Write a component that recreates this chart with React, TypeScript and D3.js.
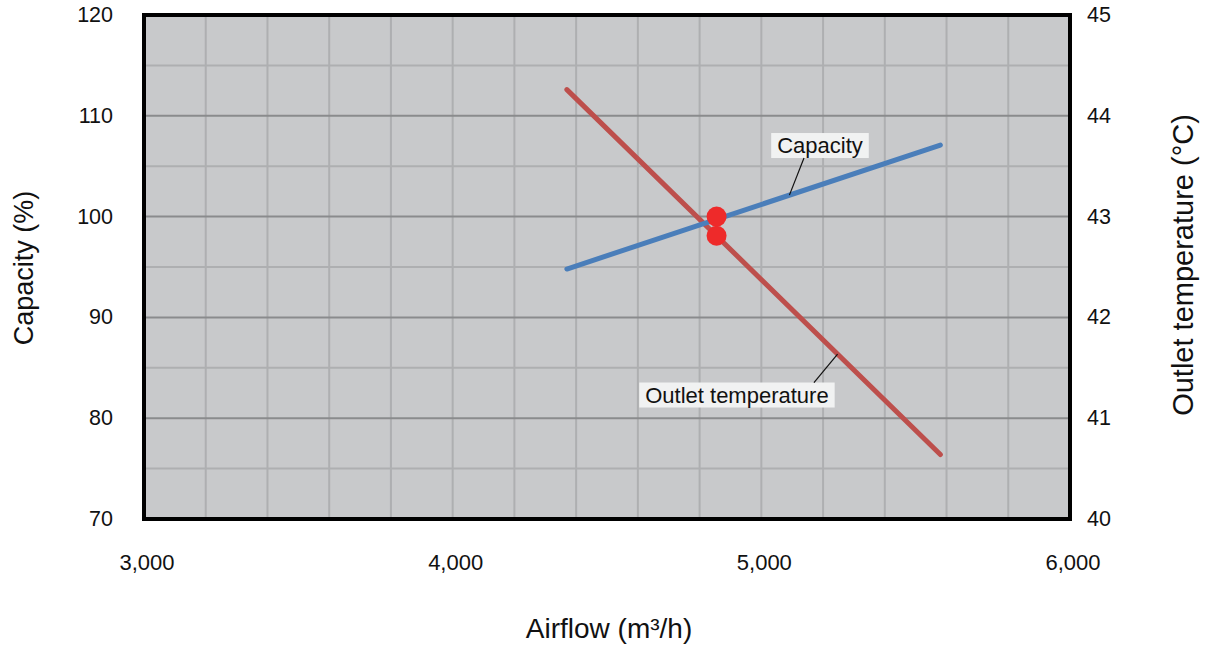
import React, { useEffect, useRef } from 'react';
import * as d3 from 'd3';

// Airflow sweep (m³/h) with matching capacity and outlet temperature
const airflow = [4370, 5580];
const capacity = [94.8, 107.1];
const outletTemp = [44.26, 40.64];

// Rated operating point
const ratedAirflow = 4855;
const ratedCapacity = 100;
const ratedTemp = 42.81;

const xTicks = [3000, 4000, 5000, 6000];
const leftTicks = [70, 80, 90, 100, 110, 120];
const rightTicks = [40, 41, 42, 43, 44, 45];

// Callout labels: label anchor and the point on the line it refers to
const capacityCallout = { text: 'Capacity', x: 5190, y: 107.05, tx: 5091 };
const tempCallout = { text: 'Outlet temperature', x: 4921, y: 41.23, tx: 5247 };

const W = 1205;
const H = 648;
const FONT = '"Liberation Sans", Arial, sans-serif';

const App: React.FC = () => {
  const svgRef = useRef<SVGSVGElement>(null);

  useEffect(() => {
    if (!svgRef.current) return;
    const svg = d3.select(svgRef.current);
    svg.selectAll('*').remove();

    const left = 144, right = 1070, top = 15, bottom = 519;

    const x = d3.scaleLinear().domain([3000, 6000]).range([left, right]);
    const yL = d3.scaleLinear().domain([70, 120]).range([bottom, top]);
    const yR = d3.scaleLinear().domain([40, 45]).range([bottom, top]);

    // plot background
    svg.append('rect')
      .attr('x', left).attr('y', top)
      .attr('width', right - left).attr('height', bottom - top)
      .attr('fill', '#c8c9cb');

    // vertical grid every 200
    svg.selectAll('.vgrid')
      .data(d3.range(3200, 6000, 200))
      .enter().append('line')
      .attr('x1', d => x(d)).attr('x2', d => x(d))
      .attr('y1', top).attr('y2', bottom)
      .attr('stroke', '#aeafb1').attr('stroke-width', 2);

    // horizontal grid every 5, darker on the tens
    svg.selectAll('.hgrid')
      .data(d3.range(75, 120, 5))
      .enter().append('line')
      .attr('x1', left).attr('x2', right)
      .attr('y1', d => yL(d)).attr('y2', d => yL(d))
      .attr('stroke', d => (d % 10 === 0 ? '#8a8b8d' : '#aeafb1'))
      .attr('stroke-width', 2);

    // frame
    svg.append('rect')
      .attr('x', left).attr('y', top)
      .attr('width', right - left).attr('height', bottom - top)
      .attr('fill', 'none').attr('stroke', '#000').attr('stroke-width', 4);

    const capLine = d3.line<number>()
      .x((_, i) => x(airflow[i]))
      .y(d => yL(d));
    const tempLine = d3.line<number>()
      .x((_, i) => x(airflow[i]))
      .y(d => yR(d));

    svg.append('path')
      .attr('d', tempLine(outletTemp))
      .attr('fill', 'none').attr('stroke', '#bd4f4c')
      .attr('stroke-width', 5).attr('stroke-linecap', 'round');

    svg.append('path')
      .attr('d', capLine(capacity))
      .attr('fill', 'none').attr('stroke', '#4a7eba')
      .attr('stroke-width', 5).attr('stroke-linecap', 'round');

    // rated point markers
    svg.append('circle')
      .attr('cx', x(ratedAirflow)).attr('cy', yR(ratedTemp))
      .attr('r', 10).attr('fill', '#ee2a2a');
    svg.append('circle')
      .attr('cx', x(ratedAirflow)).attr('cy', yL(ratedCapacity))
      .attr('r', 10).attr('fill', '#ee2a2a');

    // callouts
    const interp = (xs: number[], ys: number[], v: number) =>
      d3.scaleLinear().domain(xs).range(ys)(v);

    const drawCallout = (
      c: { text: string; x: number; y: number; tx: number },
      y: d3.ScaleLinear<number, number>,
      series: number[]
    ) => {
      const cx = x(c.x);
      const cy = y(c.y);
      const txPx = x(c.tx);
      const tyPx = y(interp(airflow, series, c.tx));
      const g = svg.append('g');
      const t = g.append('text')
        .attr('x', cx).attr('y', cy)
        .attr('text-anchor', 'middle')
        .attr('dominant-baseline', 'central')
        .attr('font-family', FONT).attr('font-size', 22)
        .attr('fill', '#111')
        .text(c.text);
      const bb = (t.node() as SVGTextElement).getBBox();
      const boxTop = cy - 12.5, boxBottom = cy + 12.5;
      g.insert('rect', 'text')
        .attr('x', bb.x - 6).attr('y', boxTop)
        .attr('width', bb.width + 12).attr('height', boxBottom - boxTop)
        .attr('fill', '#f1f2f2');
      const edgeY = tyPx > cy ? boxBottom : boxTop;
      const edgeX = cx + (tyPx > cy ? -16 : 77);
      g.append('line')
        .attr('x1', edgeX).attr('y1', edgeY)
        .attr('x2', txPx).attr('y2', tyPx)
        .attr('stroke', '#111').attr('stroke-width', 1.2);
    };

    drawCallout(capacityCallout, yL, capacity);
    drawCallout(tempCallout, yR, outletTemp);

    // tick labels
    svg.selectAll('.xtick')
      .data(xTicks)
      .enter().append('text')
      .attr('x', d => x(d) + 3).attr('y', 570)
      .attr('text-anchor', 'middle')
      .attr('font-family', FONT).attr('font-size', 22)
      .attr('fill', '#111')
      .text(d => d3.format(',')(d));

    svg.selectAll('.ltick')
      .data(leftTicks)
      .enter().append('text')
      .attr('x', 113).attr('y', d => yL(d))
      .attr('text-anchor', 'end')
      .attr('dominant-baseline', 'central')
      .attr('font-family', FONT).attr('font-size', 21.5)
      .attr('fill', '#111')
      .text(d => d);

    svg.selectAll('.rtick')
      .data(rightTicks)
      .enter().append('text')
      .attr('x', 1087).attr('y', d => yR(d))
      .attr('text-anchor', 'start')
      .attr('dominant-baseline', 'central')
      .attr('font-family', FONT).attr('font-size', 21.5)
      .attr('fill', '#111')
      .text(d => d);

    // axis titles
    svg.append('text')
      .attr('x', (left + right) / 2 + 2).attr('y', 638)
      .attr('text-anchor', 'middle')
      .attr('font-family', FONT).attr('font-size', 28)
      .attr('fill', '#111')
      .text('Airflow (m³/h)');

    svg.append('text')
      .attr('transform', `translate(24, ${(top + bottom) / 2 + 1}) rotate(-90)`)
      .attr('text-anchor', 'middle')
      .attr('dominant-baseline', 'central')
      .attr('font-family', FONT).attr('font-size', 27)
      .attr('fill', '#111')
      .text('Capacity (%)');

    svg.append('text')
      .attr('transform', `translate(1183, ${(top + bottom) / 2 - 2}) rotate(-90)`)
      .attr('text-anchor', 'middle')
      .attr('dominant-baseline', 'central')
      .attr('font-family', FONT).attr('font-size', 29)
      .attr('fill', '#111')
      .text('Outlet temperature (°C)');
  }, []);

  return (
    <svg
      ref={svgRef}
      width={W}
      height={H}
      style={{ position: 'absolute', left: 0, top: 0, background: '#fff' }}
    />
  );
};

export default App;
